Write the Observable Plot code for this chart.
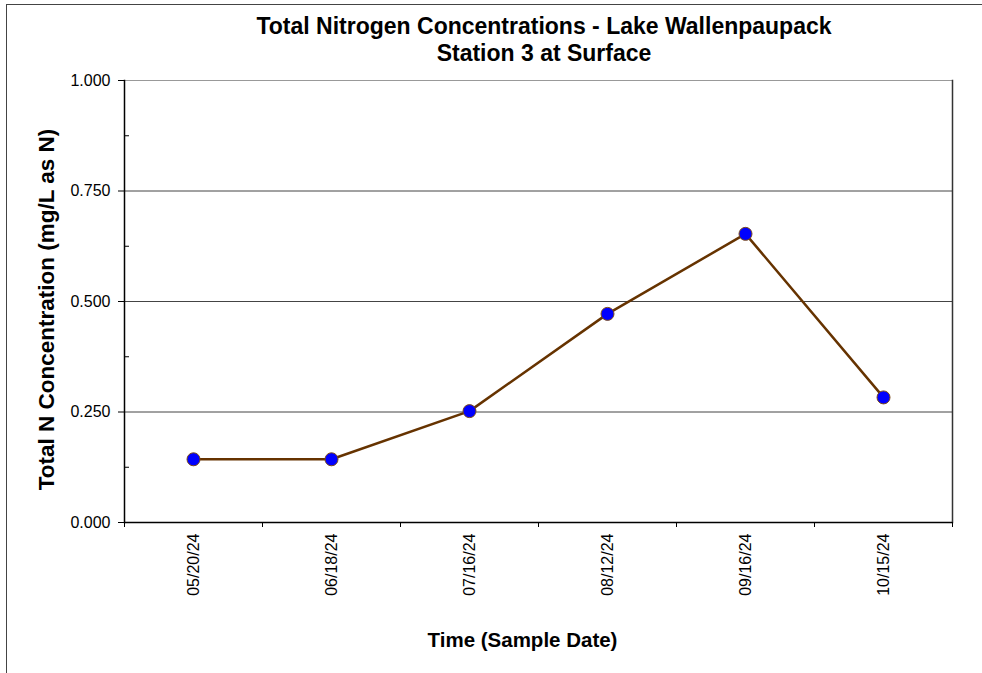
<!DOCTYPE html>
<html>
<head>
<meta charset="utf-8">
<script src="https://cdn.jsdelivr.net/npm/d3@7"></script>
<script src="https://cdn.jsdelivr.net/npm/@observablehq/plot@0.6"></script>
<style>
  html, body { margin: 0; padding: 0; background: #fff; }
  #wrap { position: relative; width: 982px; height: 673px; overflow: hidden; font-family: "Liberation Sans", Arial, sans-serif; }
  #frame { position: absolute; left: 6px; top: 4px; right: -10px; bottom: -10px; border-top: 1.5px solid #444; border-left: 1.5px solid #444; pointer-events: none; }
  #title { box-sizing: border-box; height: 66px; padding-top: 13px; padding-left: 106px; text-align: center; font-weight: bold; font-size: 23px; line-height: 27px; white-space: pre; color: #000; }
  #chart svg { display: block; }
</style>
</head>
<body>
<div id="wrap">
  <div id="frame"></div>
  <div id="title"></div>
  <div id="chart"></div>
</div>
<script>
const titleLines = ["Total Nitrogen Concentrations - Lake Wallenpaupack", "Station 3 at Surface"];
const dates = ["05/20/24", "06/18/24", "07/16/24", "08/12/24", "09/16/24", "10/15/24"];
const values = [0.143, 0.143, 0.252, 0.472, 0.653, 0.283];
const yTicks = [0, 0.25, 0.5, 0.75, 1];
const yMinorTicks = [0.125, 0.375, 0.625, 0.875];
const gridValues = [0.25, 0.5, 0.75];
const xLabel = "Time (Sample Date)";
const yLabel = "Total N Concentration (mg/L as N)";

document.getElementById("title").textContent = titleLines.join("\n");

const data = dates.map((d, i) => ({date: d, value: values[i]}));
const W = 982, H = 607, mL = 124, mR = 30;
const halfBand = (W - mL - mR) / dates.length / 2;

const chart = Plot.plot({
  width: W,
  height: H,
  marginTop: 14,
  marginBottom: 151,
  marginLeft: mL,
  marginRight: mR,
  style: {fontFamily: "'Liberation Sans', Arial, sans-serif", fontSize: "16px", color: "#000", background: "transparent", overflow: "visible"},
  x: {type: "band", domain: dates, padding: 0, axis: null},
  y: {domain: [0, 1], axis: null},
  marks: [
    Plot.ruleY(gridValues, {stroke: "#444", strokeWidth: 1}),
    Plot.ruleY([1], {stroke: "#999", strokeWidth: 1}),
    Plot.frame({anchor: "right", stroke: "#333", strokeWidth: 1.5}),
    Plot.frame({anchor: "left", stroke: "#000", strokeWidth: 1.5}),
    Plot.ruleY([0], {stroke: "#000", strokeWidth: 1.5}),
    Plot.axisY({ticks: yTicks, tickFormat: d3.format(".3f"), tickSize: 6, tickPadding: 8, label: null, stroke: "#000"}),
    Plot.axisY({ticks: yMinorTicks, tickSize: 5, dx: 5, tickFormat: () => "", label: null, stroke: "#000"}),
    Plot.axisX({tickSize: 0, tickRotate: -90, tickPadding: 11, label: null}),
    Plot.axisX({ticks: dates, tickSize: 5, tickFormat: () => "", dx: -halfBand, label: null, stroke: "#000"}),
    Plot.axisX({ticks: [dates[dates.length - 1]], tickSize: 5, tickFormat: () => "", dx: halfBand, label: null, stroke: "#000"}),
    Plot.line(data, {x: "date", y: "value", stroke: "#663300", strokeWidth: 2.5}),
    Plot.dot(data, {x: "date", y: "value", r: 6.5, fill: "#0000ff", stroke: "#7a4a1a", strokeWidth: 1}),
    Plot.text([yLabel], {frameAnchor: "left", textAnchor: "middle", lineAnchor: "middle", rotate: -90, dx: -78, dy: 8, fontWeight: "bold", fontSize: 22.5, fill: "#000"}),
    Plot.text([xLabel], {frameAnchor: "bottom", textAnchor: "middle", lineAnchor: "middle", dx: -16, dy: 118, fontWeight: "bold", fontSize: 20.5, fill: "#000"})
  ]
});
document.getElementById("chart").appendChild(chart);
</script>
</body>
</html>
